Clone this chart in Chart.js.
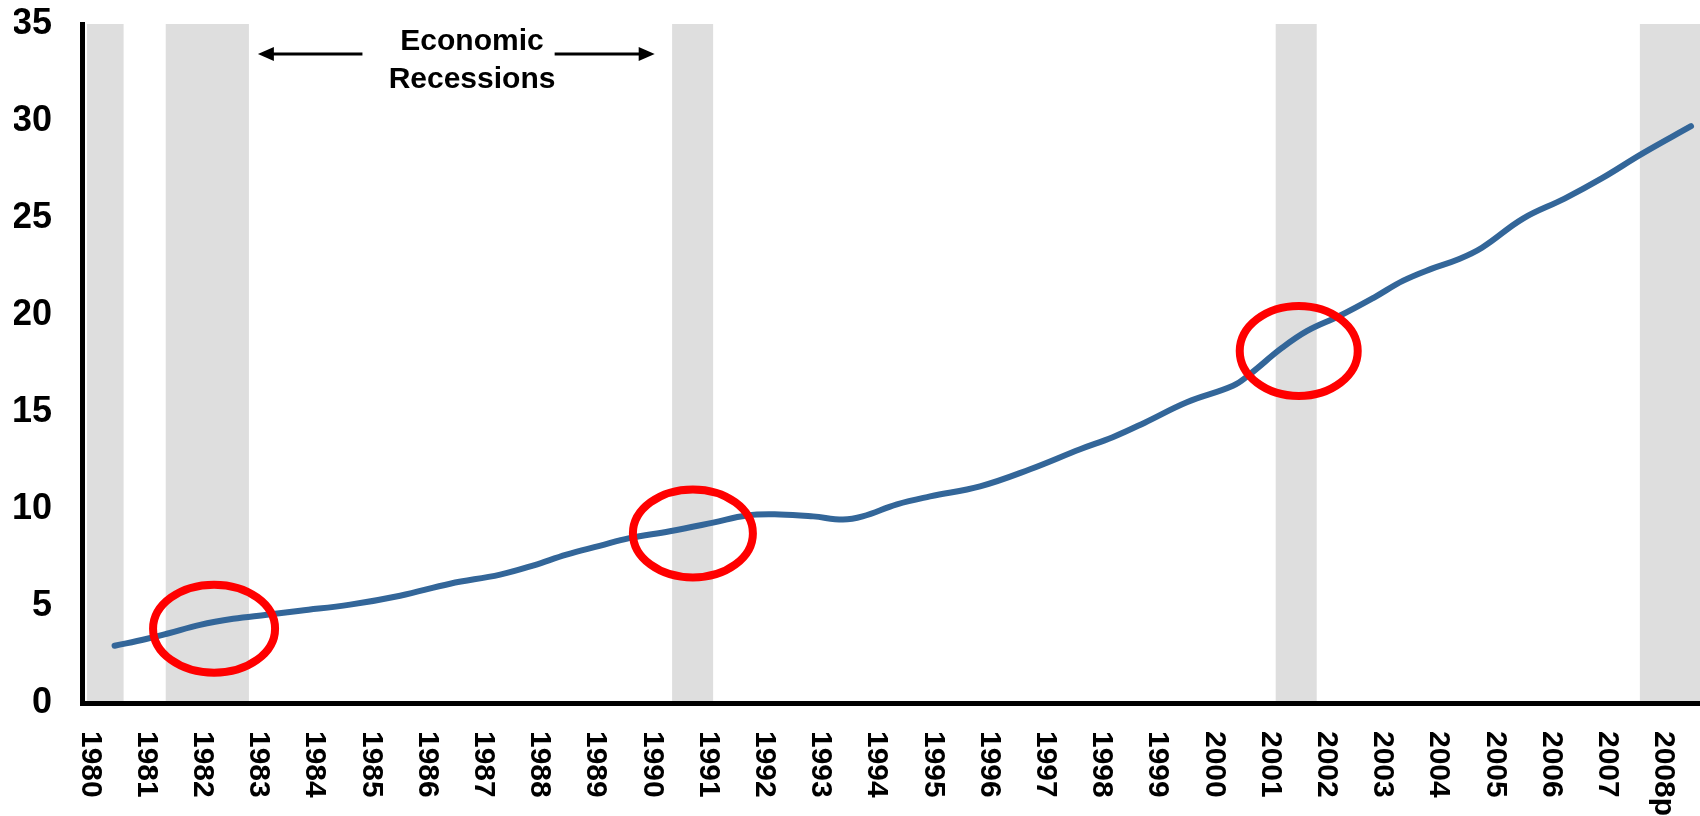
<!DOCTYPE html>
<html>
<head>
<meta charset="utf-8">
<script src="https://cdn.jsdelivr.net/npm/chart.js@4"></script>
<style>
  html, body { margin: 0; padding: 0; background: #fff; }
  #chart { display: block; }
</style>
</head>
<body>
<canvas id="chart" width="1700" height="816"></canvas>
<script>
// ---- Data ----
const seriesYears = [
    1980.44, 1981.0, 1981.37, 1981.96, 1982.55, 1983.15, 1983.74, 1984.63,
    1985.52, 1986.41, 1987.3, 1987.9, 1988.48, 1989.07, 1989.6, 1990.32,
    1991.09, 1991.69, 1992.28, 1992.87, 1993.4, 1993.75, 1994.36, 1994.95,
    1995.84, 1996.73, 1997.62, 1998.2, 1998.77, 1999.52, 2000.34, 2000.62,
    2001.21, 2001.66, 2002.24, 2002.85, 2003.37, 2003.88, 2004.33, 2004.77,
    2005.5, 2006.24, 2006.9, 2007.63, 2008.49
];
const seriesValues = [
    2.95, 3.3, 3.57, 4.03, 4.34, 4.55, 4.76, 5.07,
    5.53, 6.15, 6.62, 7.1, 7.65, 8.1, 8.5, 8.85,
    9.3, 9.67, 9.72, 9.62, 9.46, 9.62, 10.24, 10.65,
    11.17, 12.05, 13.08, 13.7, 14.45, 15.5, 16.35, 16.9,
    18.3, 19.18, 19.96, 20.9, 21.77, 22.39, 22.85, 23.47,
    24.97, 26.0, 27.04, 28.33, 29.73
];

const tickYears = [
    1980, 1981, 1982, 1983, 1984, 1985, 1986, 1987, 1988, 1989,
    1990, 1991, 1992, 1993, 1994, 1995, 1996, 1997, 1998, 1999,
    2000, 2001, 2002, 2003, 2004, 2005, 2006, 2007, 2008
];
const tickLabels = [
    '1980', '1981', '1982', '1983', '1984', '1985', '1986', '1987', '1988', '1989',
    '1990', '1991', '1992', '1993', '1994', '1995', '1996', '1997', '1998', '1999',
    '2000', '2001', '2002', '2003', '2004', '2005', '2006', '2007', '2008p'
];

// recession periods (shaded)
const recessionStart = [1979.95, 1981.35, 1990.36, 2001.10, 2007.58];
const recessionEnd   = [1980.60, 1982.83, 1991.09, 2001.83, 2008.65];

// red circles drawn over the line
const circleYears  = [1982.21, 1990.73, 2001.51];
const circleValues = [3.83, 8.74, 18.15];

const FONT = '"Liberation Sans", Arial, sans-serif';

// ---- Plugins ----
const recessionBands = {
    id: 'recessionBands',
    beforeDraw(chart) {
        const { ctx, chartArea, scales: { x } } = chart;
        ctx.save();
        ctx.fillStyle = '#dedede';
        recessionStart.forEach((s, i) => {
            const x0 = Math.max(x.getPixelForValue(s), chartArea.left);
            const x1 = Math.min(x.getPixelForValue(recessionEnd[i]), chartArea.right);
            ctx.fillRect(x0, chartArea.top, x1 - x0, chartArea.bottom - chartArea.top);
        });
        ctx.restore();
    }
};

const circles = {
    id: 'circles',
    afterDatasetsDraw(chart) {
        const { ctx, scales: { x, y } } = chart;
        ctx.save();
        ctx.strokeStyle = '#ff0000';
        ctx.lineWidth = 8;
        const radii = [[61, 44], [60, 44], [59, 45]];
        circleYears.forEach((yr, i) => {
            ctx.beginPath();
            ctx.ellipse(x.getPixelForValue(yr), y.getPixelForValue(circleValues[i]),
                radii[i][0], radii[i][1], 0, 0, Math.PI * 2);
            ctx.stroke();
        });
        ctx.restore();
    }
};

function arrow(ctx, fromX, toX, yy) {
    const dir = Math.sign(toX - fromX);
    ctx.beginPath();
    ctx.moveTo(fromX, yy);
    ctx.lineTo(toX - dir * 14, yy);
    ctx.stroke();
    ctx.beginPath();
    ctx.moveTo(toX, yy);
    ctx.lineTo(toX - dir * 16, yy - 7);
    ctx.lineTo(toX - dir * 16, yy + 7);
    ctx.closePath();
    ctx.fill();
}

const labelsAndNote = {
    id: 'labelsAndNote',
    afterDraw(chart) {
        const { ctx, chartArea, scales: { x, y } } = chart;
        ctx.save();
        ctx.fillStyle = '#000';
        ctx.strokeStyle = '#000';

        // vertical year labels, reading top to bottom
        ctx.font = 'bold 30px ' + FONT;
        ctx.textAlign = 'left';
        ctx.textBaseline = 'middle';
        tickYears.forEach((yr, i) => {
            ctx.save();
            ctx.translate(x.getPixelForValue(yr), chartArea.bottom + 28);
            ctx.rotate(Math.PI / 2);
            ctx.fillText(tickLabels[i], 0, 0);
            ctx.restore();
        });

        // "Economic Recessions" note with arrows
        ctx.font = 'bold 30px ' + FONT;
        ctx.textAlign = 'center';
        const cx = x.getPixelForValue(1986.8);
        ctx.fillText('Economic', cx, y.getPixelForValue(34.1));
        ctx.fillText('Recessions', cx, y.getPixelForValue(32.15));
        ctx.lineWidth = 3;
        const ay = y.getPixelForValue(33.45);
        arrow(ctx, x.getPixelForValue(1984.85), x.getPixelForValue(1982.99), ay);
        arrow(ctx, x.getPixelForValue(1988.27), x.getPixelForValue(1990.05), ay);
        ctx.restore();
    }
};

// ---- Chart ----
new Chart(document.getElementById('chart'), {
    type: 'line',
    data: {
        datasets: [{
            data: seriesYears.map((yr, i) => ({ x: yr, y: seriesValues[i] })),
            borderColor: '#336699',
            borderWidth: 6,
            borderCapStyle: 'round',
            pointRadius: 0,
            tension: 0.4,
            fill: false,
        }],
    },
    options: {
        responsive: false,
        animation: false,
        layout: { autoPadding: false, padding: { left: 14, top: 24, right: 0, bottom: 113 } },
        plugins: {
            legend: { display: false },
            tooltip: { enabled: false },
        },
        scales: {
            x: {
                type: 'linear',
                min: 1979.86,
                max: 2008.65,
                grid: { display: false, drawTicks: false },
                border: { color: '#000', width: 5 },
                ticks: { display: false },
                afterFit: (scale) => { scale.height = 0; },
            },
            y: {
                min: 0,
                max: 35,
                grid: { display: false, drawTicks: false },
                border: { color: '#000', width: 5 },
                ticks: {
                    stepSize: 5,
                    padding: 30,
                    color: '#000',
                    font: { family: FONT, size: 36, weight: 'bold' },
                },
                afterFit: (scale) => {
                    scale.width = 68;
                    scale.paddingTop = 0;
                    scale.paddingBottom = 0;
                },
            },
        },
    },
    plugins: [recessionBands, circles, labelsAndNote],
});
</script>
</body>
</html>
